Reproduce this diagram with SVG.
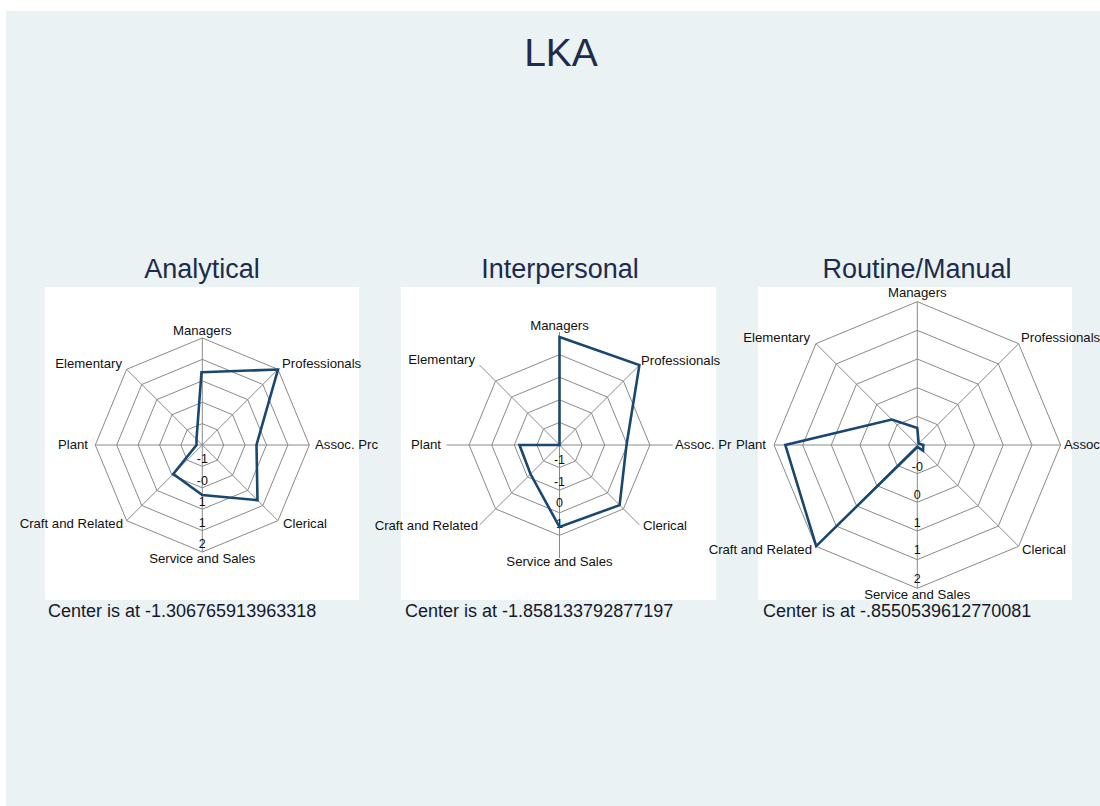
<svg xmlns="http://www.w3.org/2000/svg" width="1100" height="806" viewBox="0 0 1100 806">
<style>
  .bg{fill:#eaf2f3}
  .plot{fill:#ffffff}
  .title{font-family:"Liberation Sans",Arial,sans-serif;fill:#1e2b4a}
  .ring{fill:none;stroke:#8a8a8a;stroke-width:1}
  .axis{stroke:#8a8a8a;stroke-width:1}
  .data{fill:none;stroke:#1a476f;stroke-width:2.6;stroke-linejoin:miter}
  .lab{font-family:"Liberation Sans",Arial,sans-serif;font-size:13.2px;fill:#111}
  .tick{font-family:"Liberation Sans",Arial,sans-serif;font-size:12.5px;fill:#111;text-anchor:middle}
  .note{font-family:"Liberation Sans",Arial,sans-serif;font-size:18px;fill:#16182a}
  .mid{text-anchor:middle}
  .end{text-anchor:end}
</style>
<rect class="bg" x="6" y="11" width="1094" height="795"/>
<text class="title mid" x="561" y="66" font-size="39">LKA</text>

<g id="panel-analytical">
  <text class="title mid" x="202" y="278" font-size="27">Analytical</text>
  <rect class="plot" x="45" y="287" width="314" height="313"/>
  <g id="grid-analytical">
    <polygon class="ring" points="202.3,338 277.96,369.34 309.3,445 277.96,520.66 202.3,552 126.64,520.66 95.3,445 126.64,369.34"/>
    <polygon class="ring" points="202.3,359.4 262.83,384.47 287.9,445 262.83,505.53 202.3,530.6 141.77,505.53 116.7,445 141.77,384.47"/>
    <polygon class="ring" points="202.3,380.8 247.7,399.6 266.5,445 247.7,490.4 202.3,509.2 156.9,490.4 138.1,445 156.9,399.6"/>
    <polygon class="ring" points="202.3,402.2 232.56,414.74 245.1,445 232.56,475.26 202.3,487.8 172.04,475.26 159.5,445 172.04,414.74"/>
    <polygon class="ring" points="202.3,423.6 217.43,429.87 223.7,445 217.43,460.13 202.3,466.4 187.17,460.13 180.9,445 187.17,429.87"/>
    <line class="axis" x1="202.3" y1="445" x2="202.3" y2="338"/>
    <line class="axis" x1="202.3" y1="445" x2="277.96" y2="369.34"/>
    <line class="axis" x1="202.3" y1="445" x2="309.3" y2="445"/>
    <line class="axis" x1="202.3" y1="445" x2="277.96" y2="520.66"/>
    <line class="axis" x1="202.3" y1="445" x2="202.3" y2="552"/>
    <line class="axis" x1="202.3" y1="445" x2="126.64" y2="520.66"/>
    <line class="axis" x1="202.3" y1="445" x2="95.3" y2="445"/>
    <line class="axis" x1="202.3" y1="445" x2="126.64" y2="369.34"/>
  </g>
  <text class="tick" x="202.3" y="462.5">-1</text>
  <text class="tick" x="202.3" y="485.3">-0</text>
  <text class="tick" x="202.3" y="506.3">1</text>
  <text class="tick" x="202.3" y="526.5">1</text>
  <text class="tick" x="202.3" y="547.5">2</text>
  <polygon class="data" points="201.5,372.3 278,369.5 256.5,445 257.5,500.2 202.3,495 173.3,474 196.5,445 196.5,439.2"/>
  <text class="lab mid" x="202.3" y="334.5">Managers</text>
  <text class="lab" x="282" y="368">Professionals</text>
  <text class="lab" x="315" y="449">Assoc. Prc</text>
  <text class="lab" x="283" y="528">Clerical</text>
  <text class="lab mid" x="202.3" y="563">Service and Sales</text>
  <text class="lab end" x="123" y="528">Craft and Related</text>
  <text class="lab end" x="88" y="449">Plant</text>
  <text class="lab end" x="122" y="368">Elementary</text>
  <text class="note" x="48" y="616.5">Center is at -1.306765913963318</text>
</g>

<g id="panel-interpersonal">
  <text class="title mid" x="560" y="278" font-size="27">Interpersonal</text>
  <rect class="plot" x="401" y="287" width="315" height="313"/>
  <g id="grid-interpersonal">
    <polygon class="ring" points="559.5,354.6 623.42,381.08 649.9,445 623.42,508.92 559.5,535.4 495.58,508.92 469.1,445 495.58,381.08"/>
    <polygon class="ring" points="559.5,377.2 607.44,397.06 627.3,445 607.44,492.94 559.5,512.8 511.56,492.94 491.7,445 511.56,397.06"/>
    <polygon class="ring" points="559.5,399.8 591.46,413.04 604.7,445 591.46,476.96 559.5,490.2 527.54,476.96 514.3,445 527.54,413.04"/>
    <polygon class="ring" points="559.5,422.4 575.48,429.02 582.1,445 575.48,460.98 559.5,467.6 543.52,460.98 536.9,445 543.52,429.02"/>
    <line class="axis" x1="559.5" y1="445" x2="559.5" y2="332"/>
    <line class="axis" x1="559.5" y1="445" x2="639.4" y2="365.1"/>
    <line class="axis" x1="559.5" y1="445" x2="672.5" y2="445"/>
    <line class="axis" x1="559.5" y1="445" x2="639.4" y2="524.9"/>
    <line class="axis" x1="559.5" y1="445" x2="559.5" y2="558"/>
    <line class="axis" x1="559.5" y1="445" x2="479.6" y2="524.9"/>
    <line class="axis" x1="559.5" y1="445" x2="446.5" y2="445"/>
    <line class="axis" x1="559.5" y1="445" x2="479.6" y2="365.1"/>
  </g>
  <text class="tick" x="559.5" y="464">-1</text>
  <text class="tick" x="559.5" y="486">-1</text>
  <text class="tick" x="559.5" y="506.5">0</text>
  <text class="tick" x="559.5" y="528">1</text>
  <polygon class="data" points="559.5,337 639.4,365.1 626.5,445 619.6,505.1 559.5,527 530.5,474 519.5,445 559.5,445"/>
  <text class="lab mid" x="559.5" y="330">Managers</text>
  <text class="lab" x="641" y="365">Professionals</text>
  <text class="lab" x="675" y="449">Assoc. Pr</text>
  <text class="lab" x="643" y="530">Clerical</text>
  <text class="lab mid" x="559.5" y="566">Service and Sales</text>
  <text class="lab end" x="478" y="530">Craft and Related</text>
  <text class="lab end" x="441" y="449">Plant</text>
  <text class="lab end" x="475" y="364">Elementary</text>
  <text class="note" x="405" y="616.5">Center is at -1.858133792877197</text>
</g>

<g id="panel-routine">
  <text class="title mid" x="917" y="278" font-size="27">Routine/Manual</text>
  <rect class="plot" x="758" y="287" width="314" height="313"/>
  <g id="grid-routine">
    <polygon class="ring" points="917.3,301.7 1018.63,343.67 1060.6,445 1018.63,546.33 917.3,588.3 815.97,546.33 774,445 815.97,343.67"/>
    <polygon class="ring" points="917.3,330.36 998.36,363.94 1031.94,445 998.36,526.06 917.3,559.64 836.24,526.06 802.66,445 836.24,363.94"/>
    <polygon class="ring" points="917.3,359.02 978.1,384.2 1003.28,445 978.1,505.8 917.3,530.98 856.5,505.8 831.32,445 856.5,384.2"/>
    <polygon class="ring" points="917.3,387.68 957.83,404.47 974.62,445 957.83,485.53 917.3,502.32 876.77,485.53 859.98,445 876.77,404.47"/>
    <polygon class="ring" points="917.3,416.34 937.57,424.73 945.96,445 937.57,465.27 917.3,473.66 897.03,465.27 888.64,445 897.03,424.73"/>
    <line class="axis" x1="917.3" y1="445" x2="917.3" y2="301.7"/>
    <line class="axis" x1="917.3" y1="445" x2="1018.63" y2="343.67"/>
    <line class="axis" x1="917.3" y1="445" x2="1060.6" y2="445"/>
    <line class="axis" x1="917.3" y1="445" x2="1018.63" y2="546.33"/>
    <line class="axis" x1="917.3" y1="445" x2="917.3" y2="588.3"/>
    <line class="axis" x1="917.3" y1="445" x2="815.97" y2="546.33"/>
    <line class="axis" x1="917.3" y1="445" x2="774" y2="445"/>
    <line class="axis" x1="917.3" y1="445" x2="815.97" y2="343.67"/>
  </g>
  <text class="tick" x="917.3" y="471">-0</text>
  <text class="tick" x="917.3" y="498.6">0</text>
  <text class="tick" x="917.3" y="526.6">1</text>
  <text class="tick" x="917.3" y="554.3">1</text>
  <text class="tick" x="917.3" y="582.6">2</text>
  <polygon class="data" points="917.3,428 918.7,443.6 923.3,445 923,450.7 917.3,447 816.2,546.1 785.3,445 891.8,419.5"/>
  <text class="lab mid" x="917.3" y="296.5">Managers</text>
  <text class="lab" x="1021" y="342">Professionals</text>
  <text class="lab" x="1064" y="449">Assoc</text>
  <text class="lab" x="1022" y="554">Clerical</text>
  <text class="lab mid" x="917.3" y="598.5">Service and Sales</text>
  <text class="lab end" x="812" y="554">Craft and Related</text>
  <text class="lab end" x="766" y="449">Plant</text>
  <text class="lab end" x="810" y="342">Elementary</text>
  <text class="note" x="763" y="616.5">Center is at -.8550539612770081</text>
</g>
</svg>
